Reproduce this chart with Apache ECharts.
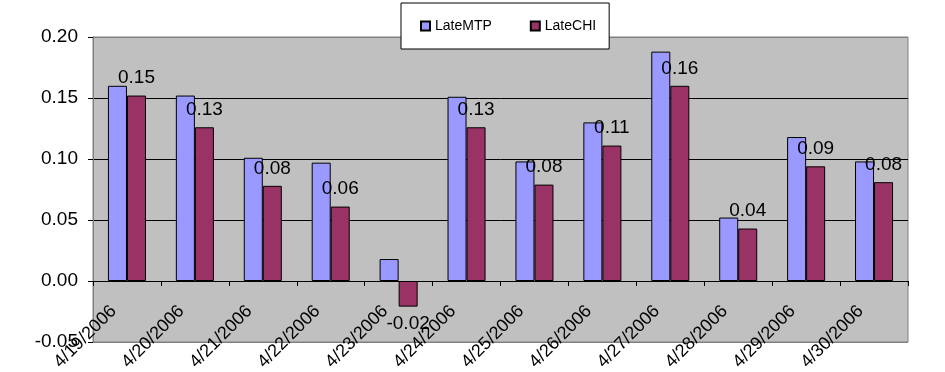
<!DOCTYPE html>
<html>
<head>
<meta charset="utf-8">
<script src="https://cdn.jsdelivr.net/npm/echarts@6/dist/echarts.min.js"></script>
<style>html,body{margin:0;padding:0;background:#fff;}#c{width:945px;height:372px;}</style>
</head>
<body>
<div id="c"></div>
<script>
var categories = ['4/19/2006','4/20/2006','4/21/2006','4/22/2006','4/23/2006','4/24/2006','4/25/2006','4/26/2006','4/27/2006','4/28/2006','4/29/2006','4/30/2006'];
var lateMTP = [0.160, 0.152, 0.101, 0.097, 0.018, 0.151, 0.098, 0.130, 0.188, 0.052, 0.118, 0.098];
var lateCHI = [0.152, 0.126, 0.078, 0.061, -0.021, 0.126, 0.079, 0.111, 0.160, 0.043, 0.094, 0.081];
var yTicks = {min: -0.05, max: 0.20, interval: 0.05};

var font = 'Liberation Sans, Arial, sans-serif';
var chart = echarts.init(document.getElementById('c'), null, {renderer: 'canvas'});
chart.setOption({
  animation: false,
  backgroundColor: '#ffffff',
  textStyle: {fontFamily: font},
  legend: {
    data: ['LateMTP', 'LateCHI'],
    left: 401, top: 3,
    padding: [16, 13, 16, 19],
    itemWidth: 9, itemHeight: 9, itemGap: 38,
    icon: 'rect',
    backgroundColor: '#ffffff',
    borderColor: '#000000', borderWidth: 1,
    textStyle: {fontFamily: font, fontSize: 14, color: '#000'},
    z: 10
  },
  grid: {
    left: 93, right: 37, top: 37, bottom: 30,
    show: true, backgroundColor: '#C0C0C0', borderColor: '#808080', borderWidth: 1,
    containLabel: false,
    outerBoundsMode: 'none'
  },
  xAxis: [{
    type: 'category',
    data: categories,
    axisLine: {onZero: true, lineStyle: {color: '#000', width: 1}},
    axisTick: {show: true, interval: 0, length: 5, lineStyle: {color: '#000'}},
    axisLabel: {show: false},
    splitLine: {show: false}
  }, {
    type: 'category',
    data: categories,
    position: 'bottom',
    axisLine: {show: false, onZero: false},
    axisTick: {show: false},
    axisLabel: {interval: 0, rotate: 45, fontFamily: font, fontSize: 18, color: '#000', margin: -47, padding: [0, 19, 0, 0], hideOverlap: false},
    splitLine: {show: false}
  }],
  yAxis: {
    type: 'value',
    min: yTicks.min, max: yTicks.max, interval: yTicks.interval,
    axisLine: {show: true, lineStyle: {color: '#808080'}},
    axisTick: {show: true, length: 5, lineStyle: {color: '#000'}},
    axisLabel: {fontFamily: font, fontSize: 19, color: '#000', margin: 15, formatter: function (v) { return v.toFixed(2); }},
    splitLine: {show: true, lineStyle: {color: ['#808080', '#000', '#000', '#000', '#000', '#808080'], width: 1}}
  },
  series: [
    {
      name: 'LateMTP', type: 'bar', data: lateMTP, xAxisIndex: 0,
      barWidth: '28%', barGap: '0%',
      itemStyle: {color: '#9999FF', borderColor: '#000', borderWidth: 1}
    },
    {
      name: 'LateCHI', type: 'bar', data: lateCHI, xAxisIndex: 0,
      barWidth: '28%', barGap: '0%',
      itemStyle: {color: '#993366', borderColor: '#000', borderWidth: 1},
      label: {show: true, position: 'outside', distance: 8, fontFamily: font, fontSize: 19, color: '#000',
        formatter: function (p) { return p.value.toFixed(2); }}
    }
  ]
});
</script>
</body>
</html>
